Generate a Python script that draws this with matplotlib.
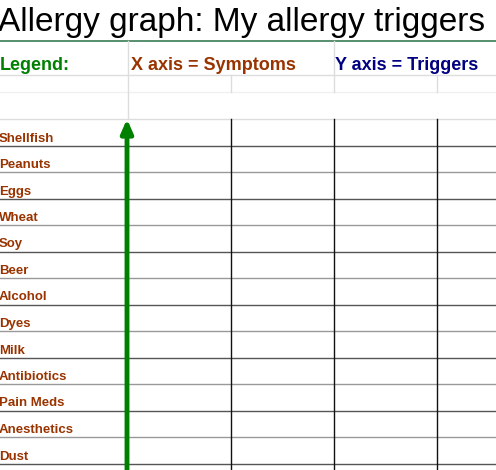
"""Spreadsheet-style allergy trigger grid."""

import matplotlib

matplotlib.use("Agg")
import matplotlib.pyplot as plt

TITLE = "Allergy graph: My allergy triggers"
LEGEND_LABEL = "Legend:"
X_LABEL = "X axis = Symptoms"
Y_LABEL = "Y axis = Triggers"
TRIGGERS = [
    "Shellfish", "Peanuts", "Eggs", "Wheat", "Soy", "Beer", "Alcohol",
    "Dyes", "Milk", "Antibiotics", "Pain Meds", "Anesthetics", "Dust",
]

W, H = 496, 470
ROW_TOP = 119
ROW_H = 26.5
COL_X = [128, 231, 334, 437]
BROWN = "#993300"

fig = plt.figure(figsize=(W / 100, H / 100), dpi=100)
ax = fig.add_axes([0, 0, 1, 1])
ax.set_xlim(0, W)
ax.set_ylim(H, 0)
ax.axis("off")

# header area
ax.text(-2, 31, TITLE, fontsize=24, family="Liberation Sans", va="baseline")
ax.plot([0, W], [41, 41], color="#3a7d55", lw=1.2)
ax.text(0, 70, LEGEND_LABEL, color="#008000", fontsize=13, weight="bold",
        family="Liberation Sans", va="baseline")
ax.text(131, 70, X_LABEL, color=BROWN, fontsize=13, weight="bold",
        family="Liberation Sans", va="baseline")
ax.text(335, 70, Y_LABEL, color="#000080", fontsize=13, weight="bold",
        family="Liberation Sans", va="baseline")
light = "#dddddd"
ax.plot([0, W], [75, 75], color=light, lw=1)
ax.plot([0, W], [92, 92], color="#f0f0f0", lw=1)
ax.plot([0, W], [ROW_TOP, ROW_TOP], color=light, lw=1)
ax.plot([128, 128], [41, ROW_TOP], color=light, lw=1)
ax.plot([334, 334], [41, 92], color=light, lw=1)
for x in (231, 437):
    ax.plot([x, x], [75, 92], color=light, lw=1)

# trigger rows
for i, name in enumerate(TRIGGERS):
    top = ROW_TOP + i * ROW_H
    bottom = top + ROW_H
    ax.text(-1, bottom - 4, name, color=BROWN, fontsize=9.5, weight="bold",
            family="Liberation Sans", va="baseline")
    ax.plot([0, W], [bottom, bottom],
            color="#555555" if i % 2 == 0 else "#999999", lw=1)

for x in COL_X[1:]:
    ax.plot([x, x], [ROW_TOP, H], color="#111111", lw=1)

# y axis arrow
ax.annotate("", xy=(127, ROW_TOP), xytext=(127, H),
            arrowprops=dict(arrowstyle="-|>,head_width=0.35,head_length=0.8",
                            color="#008000", lw=3.5, shrinkA=0, shrinkB=0))

fig.savefig("out.png", dpi=100)
